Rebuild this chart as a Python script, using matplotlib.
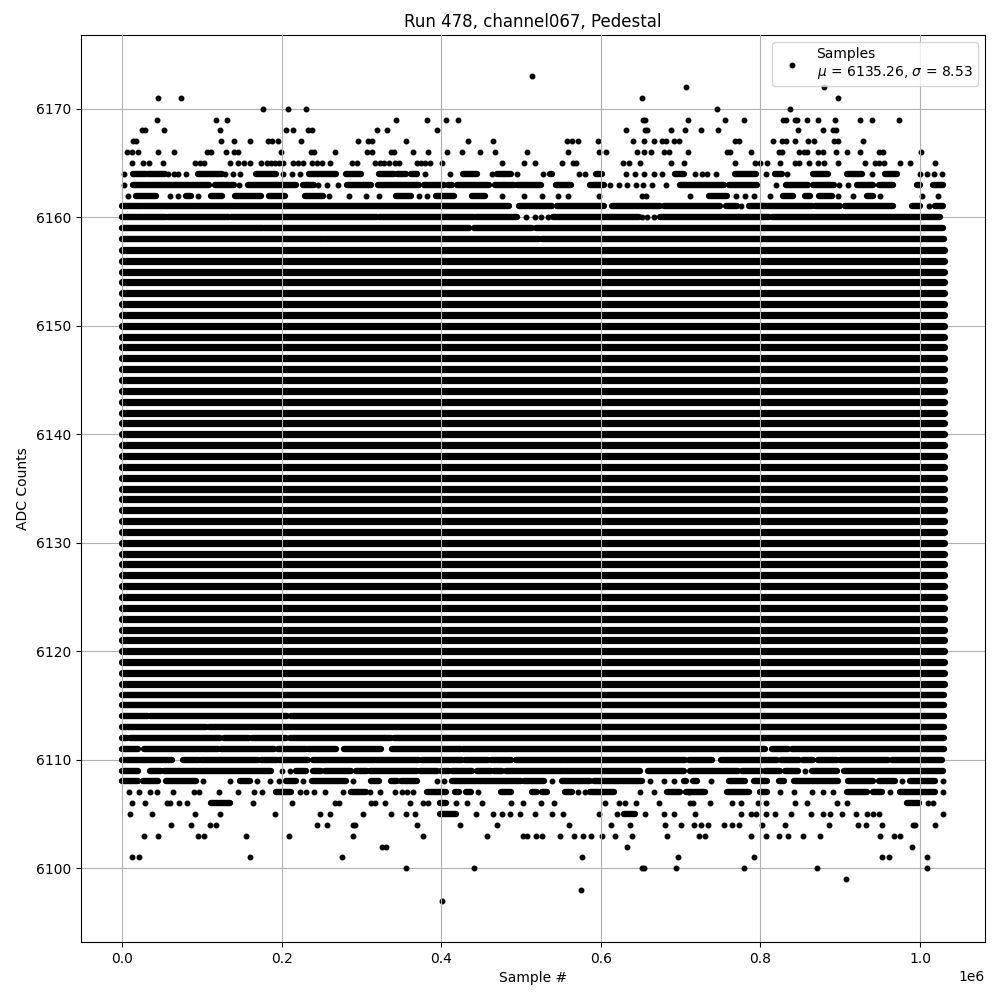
import matplotlib
matplotlib.use("Agg")
import matplotlib.pyplot as plt
import numpy as np

# ---------------------------------------------------------------------------
# Data (x in units of 1e6 samples, y in ADC counts)
# ---------------------------------------------------------------------------
N_END = 1.030                       # last sample (1e6 units)
full_levels = list(range(6117, 6158))   # levels filled over the whole run

# runs of (nearly) consecutive samples on a level: (start, end)
runs_6161 = [(0, 0.0259), (0.0279, 0.0947), (0.0968, 0.1385), (0.1398, 0.4847),
             (0.4973, 0.539), (0.5453, 0.6036), (0.6141, 0.6737), (0.6788, 0.7497),
             (0.7572, 0.7706), (0.7851, 0.8645), (0.8686, 0.8999), (0.9062, 0.9666),
             (0.9896, 1.0), (1.0188, 1.029)]
runs_6160 = [(0, 0.0551), (0.0572, 0.1343), (0.1364, 0.32), (0.322, 0.4409),
             (0.4435, 0.4952), (0.5403, 0.6474), (0.6737, 0.8102), (0.8144, 1.025)]
runs_6159 = [(0, 0.176), (0.178, 0.4347), (0.4409, 0.514), (0.519, 1.029)]
runs_6158 = [(0, 0.2512), (0.2533, 0.5223), (0.5264, 1.030)]
runs_6164 = [(0.0142, 0.030), (0.033, 0.0538), (0.0947, 0.1248), (0.1677, 0.1927),
             (0.2344, 0.2678), (0.2803, 0.2991), (0.322, 0.3408), (0.345, 0.3554),
             (0.3626, 0.3692), (0.4276, 0.4452), (0.4702, 0.4869), (0.536, 0.539),
             (0.5945, 0.6016), (0.6925, 0.7038), (0.7685, 0.7947), (0.8185, 0.8269),
             (0.8657, 0.8853), (0.9083, 0.927), (0.9562, 0.9708)]
runs_6163 = [(0.0134, 0.1093), (0.1168, 0.1398), (0.1573, 0.2178), (0.2262, 0.2407),
             (0.2824, 0.3116), (0.3208, 0.3721), (0.3784, 0.4034), (0.408, 0.4139),
             (0.4193, 0.4597), (0.4672, 0.491), (0.4944, 0.5244), (0.5444, 0.562),
             (0.5862, 0.6036), (0.6996, 0.7538), (0.7601, 0.7956), (0.8323, 0.8602),
             (0.8665, 0.8924), (0.9208, 0.9416), (0.9491, 0.9666), (0.9966, 1.0),
             (1.0167, 1.029)]
runs_6162 = [(0.0175, 0.0426), (0.0801, 0.0864), (0.1114, 0.1248), (0.1418, 0.174),
             (0.1836, 0.204), (0.229, 0.2524), (0.3429, 0.3617), (0.393, 0.4159),
             (0.4389, 0.4543), (0.7351, 0.7581), (0.8281, 0.8407), (0.8561, 0.8623),
             (0.874, 0.8895), (0.9341, 0.9408)]
runs_6116 = [(0, 0.1948), (0.197, 1.030)]
runs_6115 = [(0, 1.030)]
runs_6114 = [(0, 0.0321), (0.0355, 0.2065), (0.2115, 1.030)]
runs_6113 = [(0, 0.1051), (0.1093, 1.030)]
runs_6112 = [(0, 0.006), (0.0104, 0.123), (0.1273, 0.1593), (0.1623, 0.2053),
             (0.2099, 0.3367), (0.3408, 1.030)]
runs_6111 = [(0, 0.0196), (0.0271, 0.1206), (0.1239, 0.1906), (0.1957, 0.2303),
             (0.2332, 0.2678), (0.2783, 0.3242), (0.3388, 0.4243), (0.4276, 0.806),
             (0.8144, 0.8352), (0.8394, 1.030)]
runs_6110 = [(0, 0.0622), (0.0759, 0.0968), (0.0989, 0.1706), (0.174, 0.194),
             (0.1969, 0.2324), (0.2387, 0.3721), (0.3763, 0.3942), (0.3959, 0.4264),
             (0.4293, 0.4585), (0.4618, 0.4877), (0.4931, 0.7059), (0.71, 0.7393),
             (0.7506, 0.8206), (0.8256, 0.849), (0.854, 0.8665), (0.8719, 0.8957),
             (0.8999, 0.9603), (0.9646, 1.0271)]
runs_6109 = [(0, 0.0204), (0.0355, 0.0488), (0.0529, 0.1865), (0.2178, 0.2311),
             (0.239, 0.2491), (0.2541, 0.2866), (0.2929, 0.3075), (0.3108, 0.3701),
             (0.3734, 0.3942), (0.3992, 0.4097), (0.413, 0.4389), (0.4443, 0.4618),
             (0.466, 0.4765), (0.4806, 0.5536), (0.5557, 0.6496), (0.6592, 0.7038),
             (0.7113, 0.7714), (0.7772, 0.8006), (0.8056, 0.8248), (0.8311, 0.8477),
             (0.8645, 0.8957), (0.9049, 1.029)]
runs_6108 = [(0, 0.0204), (0.0259, 0.0446), (0.0551, 0.0926), (0.1477, 0.1606),
             (0.2057, 0.2178), (0.2374, 0.2803), (0.3125, 0.322), (0.3375, 0.3442),
             (0.35, 0.3701), (0.4139, 0.4994), (0.5035, 0.5285), (0.5516, 0.5862),
             (0.5911, 0.6517), (0.7038, 0.7071), (0.7155, 0.7205), (0.7601, 0.781),
             (0.7914, 0.8081), (0.8235, 0.8298), (0.8415, 0.8977), (0.9103, 0.9416),
             (0.9491, 0.9687), (0.9875, 1.0188)]
runs_6107 = [(0.1923, 0.2115), (0.2866, 0.3054), (0.3817, 0.4055), (0.4168, 0.4222),
             (0.4305, 0.4368), (0.4743, 0.4869), (0.514, 0.5203), (0.5265, 0.5328),
             (0.5557, 0.5641), (0.587, 0.6162), (0.683, 0.6996), (0.7071, 0.7309),
             (0.7581, 0.7851), (0.7997, 0.8089), (0.9083, 0.9333), (0.9416, 0.952),
             (0.975, 1.0188)]
runs_6106 = [(0.1114, 0.1356), (0.3984, 0.4055), (0.9833, 0.9983)]
runs_6105 = [(0.3984, 0.418), (0.6287, 0.6425)]

# isolated samples on a level
pts_6173 = [0.5136]
pts_6172 = [0.7071, 0.8802]
pts_6171 = [0.0455, 0.0743, 0.6513, 0.8977]
pts_6170 = [0.1769, 0.2082, 0.2307, 0.7455, 0.8377]
pts_6169 = [0.0442, 0.118, 0.1318, 0.3433, 0.3822, 0.4059, 0.4209, 0.6525, 0.6554,
            0.7092, 0.7551, 0.7789, 0.8281, 0.8323, 0.8436, 0.8465, 0.8582, 0.8727,
            0.8936, 0.9253, 0.9399, 0.9741]
pts_6168 = [0.0246, 0.0292, 0.0529, 0.123, 0.2057, 0.2136, 0.2332, 0.2374, 0.3196,
            0.3321, 0.3947, 0.6312, 0.6549, 0.6579, 0.6884, 0.705, 0.7255, 0.7468,
            0.8477, 0.8782, 0.8907, 0.8945]
pts_6167 = [0.0138, 0.0171, 0.1243, 0.1398, 0.1602, 0.1823, 0.1873, 0.1957, 0.2245,
            0.2954, 0.3083, 0.3137, 0.3559, 0.4334, 0.4647, 0.5578, 0.5641, 0.5711,
            0.5962, 0.64, 0.6537, 0.6662, 0.6767, 0.6821, 0.6913, 0.6975, 0.7685,
            0.7726, 0.8156, 0.8269, 0.8323, 0.8432, 0.8602, 0.8677, 0.8924, 0.8977,
            0.929]
pts_6166 = [0.0063, 0.0121, 0.0196, 0.0446, 0.0655, 0.1064, 0.1114, 0.1306, 0.1398,
            0.1456, 0.1994, 0.2365, 0.2407, 0.267, 0.3075, 0.3137, 0.3367, 0.3408,
            0.3646, 0.3834, 0.4071, 0.4259, 0.4484, 0.4672, 0.5073, 0.5586, 0.5974,
            0.6066, 0.6454, 0.6537, 0.6633, 0.6788, 0.685, 0.7092, 0.7581, 0.7622,
            0.7885, 0.8239, 0.8269, 0.849, 0.8548, 0.859, 0.8727, 0.8782, 0.8949,
            0.9083, 0.9249, 0.9491, 0.9533, 1.0009]
pts_6165 = [0.0129, 0.0259, 0.0342, 0.0517, 0.0918, 0.0976, 0.103, 0.1356, 0.1448,
            0.1523, 0.1606, 0.1736, 0.1811, 0.1865, 0.1915, 0.1969, 0.2011, 0.2144,
            0.2199, 0.2262, 0.2382, 0.2441, 0.2503, 0.2612, 0.2887, 0.2941, 0.3166,
            0.3233, 0.3283, 0.3345, 0.3425, 0.3471, 0.3701, 0.3751, 0.3801, 0.3859,
            0.4009, 0.476, 0.5035, 0.5173, 0.5511, 0.5653, 0.5686, 0.6275, 0.6349,
            0.6496, 0.6884, 0.7046, 0.7676, 0.7935, 0.7997, 0.8081, 0.8248, 0.8436,
            0.849, 0.8615, 0.8727, 0.8799, 0.8977, 0.9312, 0.9437, 0.9491, 0.9549,
            0.975, 0.9875, 1.0188]
pts_6164 = [0.0021, 0.058, 0.0655, 0.0705, 0.0805, 0.1293, 0.1385, 0.148, 0.2015,
            0.2132, 0.2224, 0.3792, 0.4109, 0.4639, 0.4952, 0.5277, 0.5724, 0.5807,
            0.6312, 0.6425, 0.6537, 0.6662, 0.6767, 0.7184, 0.7268, 0.733, 0.7447,
            0.8073, 0.8331, 0.9395, 1.0, 1.0092, 1.0175, 1.0271]
pts_6163 = [0.0021, 0.1468, 0.2457, 0.2574, 0.2708, 0.6112, 0.6229, 0.6329, 0.6446,
            0.6529, 0.6642, 0.6821, 0.8194, 0.899, 0.9103]
pts_6162 = [0.0071, 0.0605, 0.0705, 0.0947, 0.2599, 0.2845, 0.3062, 0.3225, 0.3721,
            0.3817, 0.4765, 0.5035, 0.5265, 0.546, 0.5586, 0.5974, 0.6517, 0.657,
            0.7121, 0.7697, 0.781, 0.7922, 0.8123, 0.8977, 0.9158, 0.95, 1.0021,
            1.0229]
pts_6161 = [0.776, 1.0117]
pts_6160 = [0.5057, 0.5169, 0.5253, 0.5336, 0.6517, 0.6579, 0.6662]
pts_6109 = [0.1999, 0.2107, 0.8561]
pts_6108 = [0.101, 0.1356, 0.169, 0.1856, 0.1969, 0.2262, 0.29, 0.3942, 0.4034,
            0.539, 0.6621, 0.6788, 0.6913, 0.738, 0.9771, 1.0292]
pts_6107 = [0.0092, 0.0217, 0.0355, 0.0438, 0.0638, 0.0897, 0.0968, 0.1218, 0.1456,
            0.1656, 0.1748, 0.2228, 0.2311, 0.2407, 0.2545, 0.277, 0.3108, 0.3233,
            0.3417, 0.3504, 0.3575, 0.365, 0.446, 0.5711, 0.5807, 0.6496, 0.6662,
            0.71, 0.8248, 0.8415, 0.8645, 0.879, 0.8907, 0.9625, 1.0292]
pts_6106 = [0.0121, 0.0292, 0.0563, 0.0601, 0.0709, 0.0809, 0.1636, 0.2124, 0.267,
            0.272, 0.3116, 0.3166, 0.3296, 0.3605, 0.3771, 0.3838, 0.4189, 0.4326,
            0.4514, 0.4869, 0.5023, 0.5253, 0.5411, 0.6049, 0.6229, 0.6299, 0.6446,
            0.6729, 0.7113, 0.715, 0.7363, 0.7639, 0.7751, 0.7976, 0.8064, 0.8439,
            0.8586, 0.8965, 0.909, 1.0104, 1.0167]
pts_6105 = [0.0104, 0.0371, 0.0918, 0.123, 0.1915, 0.2482, 0.2607, 0.302, 0.3375,
            0.3559, 0.3671, 0.4435, 0.4647, 0.476, 0.486, 0.4985, 0.5173, 0.5386,
            0.5523, 0.5974, 0.6199, 0.655, 0.6788, 0.6913, 0.7176, 0.7751, 0.7885,
            0.7939, 0.8064, 0.8189, 0.8389, 0.864, 0.879, 0.8877, 0.9028, 0.9203,
            0.9341, 0.9416, 0.9487, 1.0292]
pts_6104 = [0.0617, 0.0868, 0.1105, 0.118, 0.2445, 0.257, 0.2895, 0.2916, 0.3696,
            0.4234, 0.4697, 0.5598, 0.6124, 0.6362, 0.68, 0.7, 0.7163, 0.7255, 0.7338,
            0.7538, 0.7643, 0.7726, 0.8014, 0.8314, 0.8857, 0.9228, 0.9328, 0.9524,
            0.9917, 0.9941, 1.0184]
pts_6103 = [0.0279, 0.0446, 0.0947, 0.103, 0.1556, 0.2086, 0.2895, 0.3771, 0.4572,
            0.5023, 0.5073, 0.5185, 0.5265, 0.5486, 0.5661, 0.5773, 0.5874, 0.6012,
            0.6174, 0.6387, 0.6825, 0.7225, 0.73, 0.7876, 0.8064, 0.8239, 0.8352,
            0.854, 0.8752, 0.9503, 0.9679, 0.9754]
pts_6102 = [0.3254, 0.3313, 0.6325, 0.9904]
pts_6101 = [0.0121, 0.0209, 0.1606, 0.2757, 0.5761, 0.6963, 0.7914, 0.9528, 0.9616,
            1.0092]
pts_6100 = [0.3559, 0.4409, 0.6517, 0.6546, 0.6938, 0.7789, 0.8715, 1.0092]
pts_6099 = [0.9078]
pts_6098 = [0.5749]
pts_6097 = [0.4009]

mean_adc = 6135.26
std_adc = 8.53
title = "Run 478, channel067, Pedestal"

# ---------------------------------------------------------------------------
run_levels = [(6161, runs_6161), (6160, runs_6160), (6159, runs_6159),
              (6158, runs_6158), (6164, runs_6164), (6163, runs_6163),
              (6162, runs_6162), (6116, runs_6116), (6115, runs_6115),
              (6114, runs_6114), (6113, runs_6113), (6112, runs_6112),
              (6111, runs_6111), (6110, runs_6110), (6109, runs_6109),
              (6108, runs_6108), (6107, runs_6107), (6106, runs_6106),
              (6105, runs_6105)]
pt_levels = [(6173, pts_6173), (6172, pts_6172), (6171, pts_6171),
             (6170, pts_6170), (6169, pts_6169), (6168, pts_6168),
             (6167, pts_6167), (6166, pts_6166), (6165, pts_6165),
             (6164, pts_6164), (6163, pts_6163), (6162, pts_6162),
             (6161, pts_6161), (6160, pts_6160), (6109, pts_6109),
             (6108, pts_6108), (6107, pts_6107), (6106, pts_6106),
             (6105, pts_6105), (6104, pts_6104), (6103, pts_6103),
             (6102, pts_6102), (6101, pts_6101), (6100, pts_6100),
             (6099, pts_6099), (6098, pts_6098), (6097, pts_6097)]

full_y, full_a, full_b = [], [], []
for lvl in full_levels:
    full_y.append(lvl); full_a.append(0.0); full_b.append(N_END)
seg_y, seg_a, seg_b = [], [], []
for lvl, rl in run_levels:
    for a, b in rl:
        seg_y.append(lvl); seg_a.append(a); seg_b.append(b)

px, py = [], []
for lvl, pl in pt_levels:
    px.extend(pl); py.extend([lvl] * len(pl))

fig = plt.figure(figsize=(10, 10), dpi=100)
ax = fig.add_axes([0.081, 0.058, 0.904, 0.907])

lc1 = ax.hlines(full_y, np.array(full_a) * 1e6, np.array(full_b) * 1e6,
                colors="black", linewidth=5.2, zorder=2)
lc1.set_capstyle("round")
lc2 = ax.hlines(seg_y, np.array(seg_a) * 1e6, np.array(seg_b) * 1e6,
                colors="black", linewidth=4.6, zorder=2)
lc2.set_capstyle("round")

ax.plot(np.array(px) * 1e6, py, linestyle="none", marker=".", color="black",
        markersize=6.5, zorder=2,
        label=f"Samples\n$\\mu$ = {mean_adc:.2f}, $\\sigma$ = {std_adc:.2f}")

ax.grid(True)
# vertical grid lines drawn over the data, horizontal ones beneath it
ax.yaxis.set_zorder(1.0)
ax.xaxis.set_zorder(2.5)
ax.set_title(title)
ax.set_xlabel("Sample #")
ax.set_ylabel("ADC Counts")
ax.legend(loc="upper right")

fig.savefig("out.png", dpi=100)
